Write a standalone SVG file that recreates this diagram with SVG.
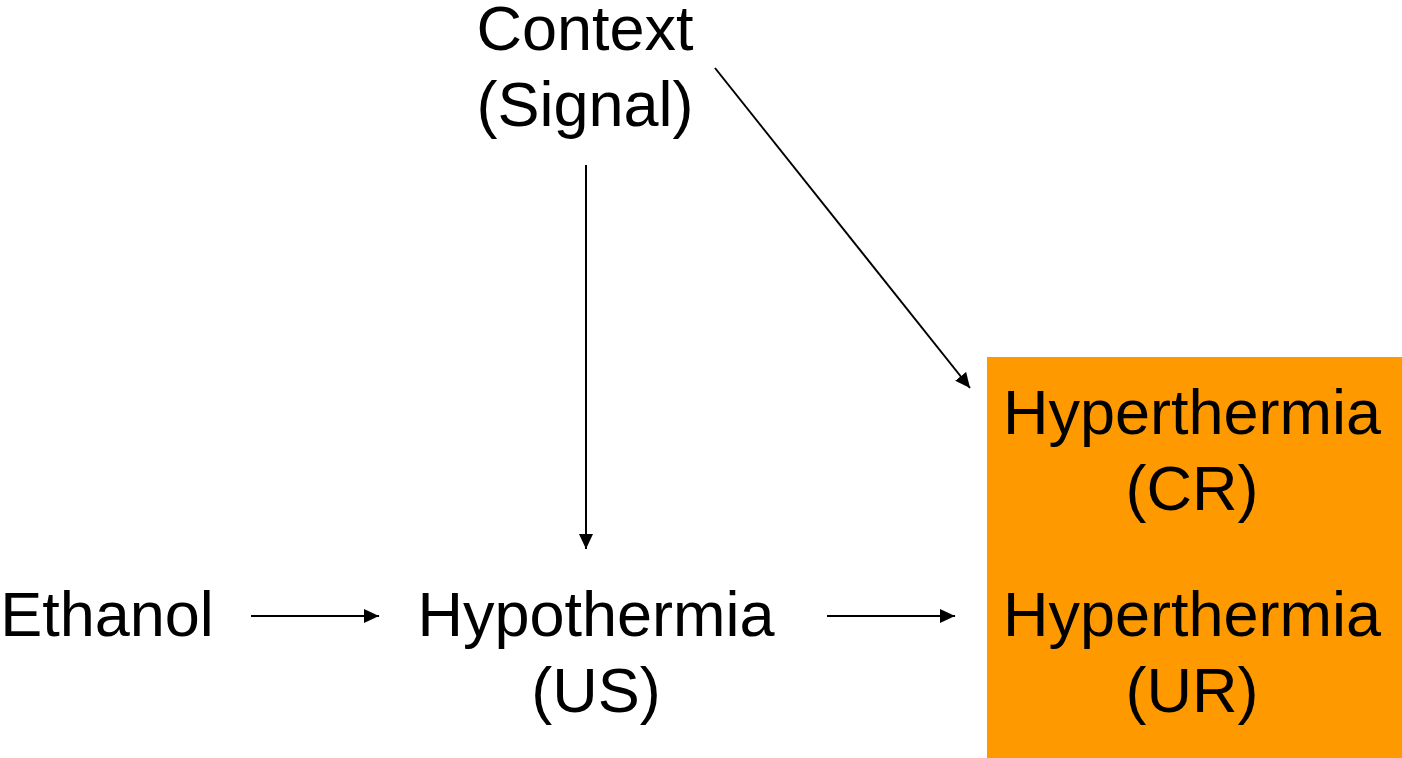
<svg xmlns="http://www.w3.org/2000/svg" width="1402" height="758" viewBox="0 0 1402 758">
<style>
text{font-family:"Liberation Sans",Arial,sans-serif;font-size:63px;fill:#000;text-anchor:middle}
.c line{stroke:#000;stroke-width:2}
</style>
<defs>
<marker id="ah" viewBox="0 0 15 14" refX="15" refY="7" markerWidth="15" markerHeight="14" markerUnits="userSpaceOnUse" orient="auto"><path d="M0,0 L15,7 L0,14 z" fill="#000"/></marker>
</defs>
<rect width="1402" height="758" fill="#fff"/>
<g id="hyperthermia-box"><rect x="987" y="357" width="415" height="401" fill="#FF9900"/></g>
<g id="context"><text x="585" y="50">Context</text><text x="585" y="126">(Signal)</text></g>
<g id="ethanol"><text x="107" y="636">Ethanol</text></g>
<g id="hypothermia"><text x="596" y="636">Hypothermia</text><text x="596" y="712">(US)</text></g>
<g id="cr"><text x="1192" y="434">Hyperthermia</text><text x="1192" y="510">(CR)</text></g>
<g id="ur"><text x="1192" y="636">Hyperthermia</text><text x="1192" y="712">(UR)</text></g>
<g class="c" id="connectors">
<line x1="251" y1="616" x2="379" y2="616" marker-end="url(#ah)"/>
<line x1="827" y1="616" x2="955" y2="616" marker-end="url(#ah)"/>
<line x1="586" y1="165" x2="586" y2="549" marker-end="url(#ah)"/>
<line x1="715" y1="68" x2="970" y2="388" marker-end="url(#ah)"/>
</g>
</svg>
